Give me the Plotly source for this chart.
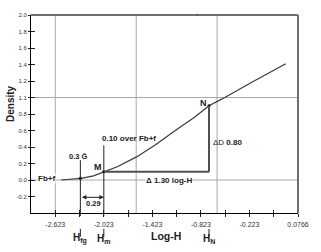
import plotly.graph_objects as go

# ---------------- data ----------------
log_h = [-2.55, -2.45, -2.303, -2.15, -2.023, -1.857, -1.618, -1.379, -1.14, -0.902, -0.723, -0.566, -0.183, 0.226]
density = [0.0, 0.005, 0.02, 0.05, 0.10, 0.16, 0.28, 0.43, 0.60, 0.76, 0.90, 0.98, 1.19, 1.41]

H_fg = -2.313
H_m = -2.023
M_y = 0.10
delta_logH = 1.30
delta_D = 0.80
N_x = H_m + delta_logH
N_y = M_y + delta_D

x_tickvals = [-2.623, -2.323, -2.023, -1.723, -1.423, -1.123, -0.823, -0.523, -0.223, 0.077, 0.377]
x_ticktext = ["-2.623", "", "-2.023", "", "-1.423", "", "-0.823", "", "-0.223", "", "0.0766"]
y_tickvals = [-0.2, 0.0, 0.2, 0.4, 0.6, 0.8, 1.0, 1.2, 1.4, 1.6, 1.8, 2.0]
y_ticktext = ["-0.2", "0.0", "0.2", "0.4", "0.6", "0.8", "1.1", "1.2", "1.4", "1.6", "1.8", "2.0"]
grid_x = [-2.623, -1.623, -0.623]
grid_y = [0.0, 1.0]

X_RANGE = [-2.923, 0.377]
Y_RANGE = [-0.4, 2.0]


def ypaper(v):
    return (v - Y_RANGE[0]) / (Y_RANGE[1] - Y_RANGE[0])


FONT = "Liberation Sans, Arial, sans-serif"
DARK = "#222222"

fig = go.Figure()
fig.add_trace(go.Scatter(x=log_h, y=density, mode="lines",
                         line=dict(color="#3a3a3a", width=1.2), hoverinfo="skip"))
fig.add_trace(go.Scatter(x=[H_fg, H_m, N_x], y=[0.02, M_y, N_y], mode="markers",
                         marker=dict(color="black", size=3), hoverinfo="skip"))
# overlay axes for crossing ticks
fig.add_trace(go.Scatter(x=[None], y=[None], xaxis="x2", yaxis="y2", showlegend=False))

shapes = []
for gx in grid_x:
    shapes.append(dict(type="line", xref="x", yref="paper", x0=gx, x1=gx, y0=0, y1=1,
                       line=dict(color="#a8a8a8", width=1), layer="below"))
for gy in grid_y:
    shapes.append(dict(type="line", xref="paper", yref="y", x0=0, x1=1, y0=gy, y1=gy,
                       line=dict(color="#a8a8a8", width=1), layer="below"))
# top/right border
shapes.append(dict(type="line", xref="paper", yref="paper", x0=0, x1=1, y0=1, y1=1,
                   line=dict(color="#707070", width=2)))
shapes.append(dict(type="line", xref="paper", yref="paper", x0=1, x1=1, y0=0, y1=1,
                   line=dict(color="#707070", width=2)))
# delta lines
shapes.append(dict(type="line", xref="x", yref="y", x0=H_m, x1=N_x, y0=M_y, y1=M_y,
                   line=dict(color="#505050", width=2)))
shapes.append(dict(type="line", xref="x", yref="y", x0=N_x, x1=N_x, y0=M_y, y1=N_y,
                   line=dict(color="#505050", width=2)))
# H markers lines
shapes.append(dict(type="line", xref="x", yref="paper", x0=H_fg, x1=H_fg,
                   y0=ypaper(0.24), y1=-0.015, line=dict(color=DARK, width=1)))
shapes.append(dict(type="line", xref="x", yref="paper", x0=H_m, x1=H_m,
                   y0=ypaper(0.42), y1=-0.015, line=dict(color=DARK, width=1)))
for hx in [H_fg, H_m, N_x]:
    shapes.append(dict(type="line", xref="x", yref="paper", x0=hx, x1=hx,
                       y0=-0.08, y1=-0.12, line=dict(color=DARK, width=1)))

ann = []


def txt(x, y, t, size=8, xref="x", yref="y", xanchor="center", bg=None, **kw):
    d = dict(x=x, y=y, xref=xref, yref=yref, text=t, showarrow=False, xanchor=xanchor,
             font=dict(family=FONT, size=size, color=DARK))
    if bg:
        d["bgcolor"] = bg
        d["borderpad"] = 0
    d.update(kw)
    ann.append(d)


txt(-2.733, 0.02, "<b>Fb+f</b>", 8, bg="white")
txt(-2.33, 0.29, "<b>0.3 \u1E20</b>", 7.5)
txt(-2.096, 0.16, "<b>M</b>", 9)
txt(-2.076, 0.507, "<b>0.10 over Fb+f</b>", 8, xanchor="left")
txt(-0.793, 0.93, "<b>N</b>", 9)
txt(N_x + 0.03, 0.458, "\u0394D <b>0.80</b>", 8, xanchor="left")
txt(-1.223, 0.0, "<b>\u0394 1.30 log-H</b>", 8, bg="white")
txt(-2.15, -0.29, "<b>0.29</b>", 7.5)
txt(H_fg, -0.17, "<b>H<sub>fg</sub></b>", 10, yref="paper")
txt(H_m, -0.17, "<b>H<sub>m</sub></b>", 10, yref="paper")
txt(N_x, -0.17, "<b>H<sub>N</sub></b>", 10, yref="paper")
txt(0.505, -0.155, "<b>Log-H</b>", 10.5, xref="paper", yref="paper")
ann.append(dict(x=-0.105, y=0.553, xref="paper", yref="paper", text="<b>Density</b>",
                showarrow=False, textangle=-90, font=dict(family=FONT, size=10, color=DARK)))
txt(0.623, 1.035, "-", 7, xref="paper", yref="paper")
# double arrow
ann.append(dict(x=H_m, y=-0.21, ax=H_fg, ay=-0.21, xref="x", yref="y", axref="x", ayref="y",
                text="", showarrow=True, arrowside="end+start", arrowhead=2,
                arrowsize=0.9, arrowwidth=1, arrowcolor=DARK, standoff=0, startstandoff=0))

fig.update_layout(
    width=321, height=252,
    margin=dict(l=31, r=14, t=14, b=39),
    plot_bgcolor="white", paper_bgcolor="white",
    showlegend=False,
    shapes=shapes, annotations=ann,
    xaxis=dict(range=X_RANGE, tickvals=x_tickvals, ticktext=x_ticktext,
               showgrid=False, zeroline=False, showline=True, linecolor="black", linewidth=1,
               ticks="outside", ticklen=3, tickcolor=DARK, tickwidth=1, ticklabelstandoff=2,
               tickfont=dict(family=FONT, size=7, color="#333333")),
    yaxis=dict(range=Y_RANGE, tickvals=y_tickvals, ticktext=y_ticktext,
               showgrid=False, zeroline=False, showline=True, linecolor="black", linewidth=1,
               ticks="outside", ticklen=2, tickcolor=DARK, tickwidth=1,
               tickfont=dict(family=FONT, size=6, color="#333333")),
    xaxis2=dict(range=X_RANGE, overlaying="x", tickvals=x_tickvals, showticklabels=False,
                showgrid=False, zeroline=False, ticks="inside", ticklen=3, tickcolor=DARK),
    yaxis2=dict(range=Y_RANGE, overlaying="y", tickvals=y_tickvals, showticklabels=False,
                showgrid=False, zeroline=False, ticks="inside", ticklen=4, tickcolor=DARK),
)

fig.write_html("out.html")
